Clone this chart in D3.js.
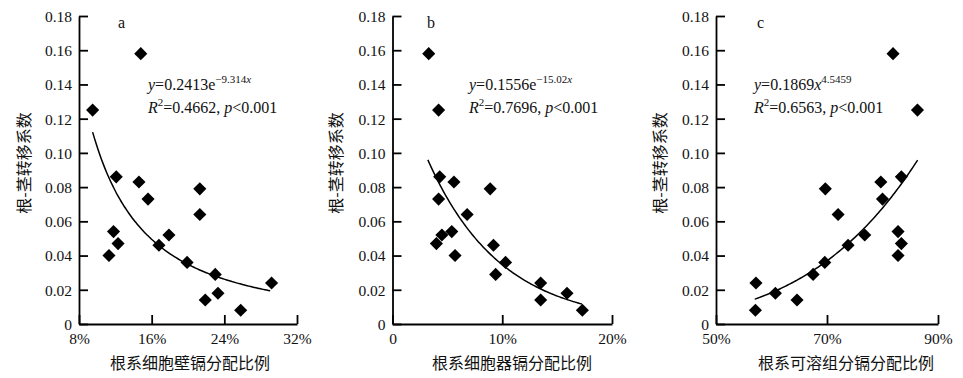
<!DOCTYPE html>
<html>
<head>
<meta charset="utf-8">
<script src="https://cdn.jsdelivr.net/npm/d3@7"></script>
<style>
  body { margin: 0; background: #fff; }
  svg { display: block; }
  .tick-label { font-family: "Liberation Serif", "DejaVu Serif", serif; font-size: 15.5px; fill: #111; }
  .eq { font-family: "Liberation Serif", "DejaVu Serif", serif; font-size: 16px; fill: #111; }
  .cn { font-family: "Noto Sans CJK SC", sans-serif; font-size: 16px; fill: #111; }
</style>
</head>
<body>
<div id="chart"></div>
<script>
// y ticks shared by all panels
const yTicks = [0, 0.02, 0.04, 0.06, 0.08, 0.10, 0.12, 0.14, 0.16, 0.18];

// panel a: cell wall share (%)
const aX = [9.5, 14.8, 12.1, 14.6, 15.6, 21.3, 21.3, 11.8, 12.3, 11.3, 16.8, 17.9, 19.9, 23.0, 21.9, 23.3, 25.8, 29.2];
const aY = [0.125, 0.158, 0.086, 0.083, 0.073, 0.079, 0.064, 0.054, 0.047, 0.040, 0.046, 0.052, 0.036, 0.029, 0.014, 0.018, 0.008, 0.024];
const aTicks = [8, 16, 24, 32];

// panel b: organelle share (%)
const bX = [3.3, 4.2, 4.3, 5.6, 4.2, 8.9, 6.8, 5.4, 4.5, 4.0, 5.7, 9.2, 10.3, 9.4, 13.5, 13.5, 15.9, 17.3];
const bY = [0.158, 0.125, 0.086, 0.083, 0.073, 0.079, 0.064, 0.054, 0.052, 0.047, 0.040, 0.046, 0.036, 0.029, 0.024, 0.014, 0.018, 0.008];
const bTicks = [0, 10, 20];

// panel c: soluble fraction share (%)
const cX = [81.9, 86.3, 83.4, 79.7, 80.0, 69.7, 72.0, 82.8, 76.8, 83.4, 82.8, 73.8, 69.6, 67.5, 57.2, 60.7, 64.6, 57.1];
const cY = [0.158, 0.125, 0.086, 0.083, 0.073, 0.079, 0.064, 0.054, 0.052, 0.047, 0.040, 0.046, 0.036, 0.029, 0.024, 0.018, 0.014, 0.008];
const cTicks = [50, 70, 90];

const width = 963, height = 378;
const yTop = 16, yBottom = 324;

const panels = [
  { label: 'a', xs: aX, ys: aY, ticks: aTicks, domain: [8, 32], left: 79, right: 297,
    fit: x => 3.844 * Math.pow(x, -1.57), fitRange: [9.5, 29.05],
    eq: ['0.2413e', '\u22129.314', 'x'], r2: '0.4662', eqX: 148, labelX: 118,
    xTitle: '根系细胞壁镉分配比例', xTitleX: 190, yTitleX: 24 },
  { label: 'b', xs: bX, ys: bY, ticks: bTicks, domain: [0, 20], left: 392.5, right: 612,
    fit: x => 0.1556 * Math.exp(-15.02 * x / 100), fitRange: [3.22, 17.26],
    eq: ['0.1556e', '\u221215.02', 'x'], r2: '0.7696', eqX: 469, labelX: 427,
    xTitle: '根系细胞器镉分配比例', xTitleX: 512, yTitleX: 336 },
  { label: 'c', xs: cX, ys: cY, ticks: cTicks, domain: [50, 90], left: 716, right: 938,
    fit: x => 0.1869 * Math.pow(x / 100, 4.5459), fitRange: [56.98, 86.32],
    eq: ['0.1869', '4.5459', 'x'], r2: '0.6563', eqX: 754, labelX: 757, power: true,
    xTitle: '根系可溶组分镉分配比例', xTitleX: 846, yTitleX: 660 }
];

const svg = d3.select('#chart').append('svg')
  .attr('width', width)
  .attr('height', height);

const y = d3.scaleLinear().domain([0, 0.18]).range([yBottom, yTop]);
const diamond = d3.symbol().type(d3.symbolSquare).size(86);

panels.forEach(p => {
  const x = d3.scaleLinear().domain(p.domain).range([p.left, p.right]);
  const g = svg.append('g');

  // y axis, ticks pointing inward
  const yAxis = d3.axisLeft(y).tickValues(yTicks).tickSizeInner(-9).tickSizeOuter(0).tickPadding(7)
    .tickFormat(d => d === 0 ? '0' : d3.format('.2f')(d));
  const ya = g.append('g').attr('transform', `translate(${p.left},0)`).call(yAxis);

  // x axis
  const xAxis = d3.axisBottom(x).tickValues(p.ticks).tickSizeInner(-9).tickSizeOuter(0).tickPadding(9)
    .tickFormat(d => d === 0 ? '0' : d + '%');
  const xa = g.append('g').attr('transform', `translate(0,${yBottom})`).call(xAxis);

  [ya, xa].forEach(a => {
    a.attr('font-family', null).attr('font-size', null);
    a.select('.domain').attr('stroke', '#000').attr('stroke-width', 1.8);
    a.selectAll('.tick line').attr('stroke', '#000').attr('stroke-width', 1.8);
    a.selectAll('.tick text').attr('class', 'tick-label').attr('fill', null);
  });
  ya.selectAll('.tick text').attr('x', -7).attr('dy', '0.35em');
  xa.selectAll('.tick text').attr('y', 9).attr('dy', '0.72em');

  // trend curve
  const xsFit = d3.range(0, 101).map(i => p.fitRange[0] + (p.fitRange[1] - p.fitRange[0]) * i / 100);
  g.append('path')
    .datum(xsFit)
    .attr('fill', 'none')
    .attr('stroke', '#000')
    .attr('stroke-width', 1.5)
    .attr('d', d3.line().x(d => x(d)).y(d => y(p.fit(d))).curve(d3.curveBasis));

  // points
  g.selectAll('.pt')
    .data(p.xs.map((v, i) => [v, p.ys[i]]))
    .enter().append('path')
    .attr('class', 'pt')
    .attr('d', diamond)
    .attr('fill', '#000')
    .attr('transform', d => `translate(${x(d[0])},${y(d[1])}) rotate(45)`);

  // panel letter
  g.append('text').attr('class', 'eq').attr('x', p.labelX).attr('y', 28).text(p.label);

  // equation
  const t1 = g.append('text').attr('class', 'eq').attr('x', p.eqX).attr('y', 90);
  t1.append('tspan').style('font-style', 'italic').text('y');
  t1.append('tspan').text('=' + p.eq[0]);
  if (p.power) t1.append('tspan').style('font-style', 'italic').text('x');
  const sup = t1.append('tspan').attr('dy', -7).style('font-size', '11px');
  sup.append('tspan').text(p.eq[1]);
  if (!p.power) sup.append('tspan').style('font-style', 'italic').text(p.eq[2]);

  const t2 = g.append('text').attr('class', 'eq').attr('x', p.eqX).attr('y', 113);
  t2.append('tspan').style('font-style', 'italic').text('R');
  t2.append('tspan').attr('dy', -7).style('font-size', '11px').text('2');
  t2.append('tspan').attr('dy', 7).text('=' + p.r2 + ', ');
  t2.append('tspan').style('font-style', 'italic').text('p');
  t2.append('tspan').text('<0.001');

  // axis titles
  g.append('text').attr('class', 'cn')
    .attr('x', p.xTitleX).attr('y', 369)
    .attr('text-anchor', 'middle')
    .text(p.xTitle);

  g.append('text').attr('class', 'cn')
    .attr('transform', `translate(${p.yTitleX + 6},163) rotate(-90)`)
    .attr('text-anchor', 'middle')
    .text('根-茎转移系数');
});
</script>
</body>
</html>
